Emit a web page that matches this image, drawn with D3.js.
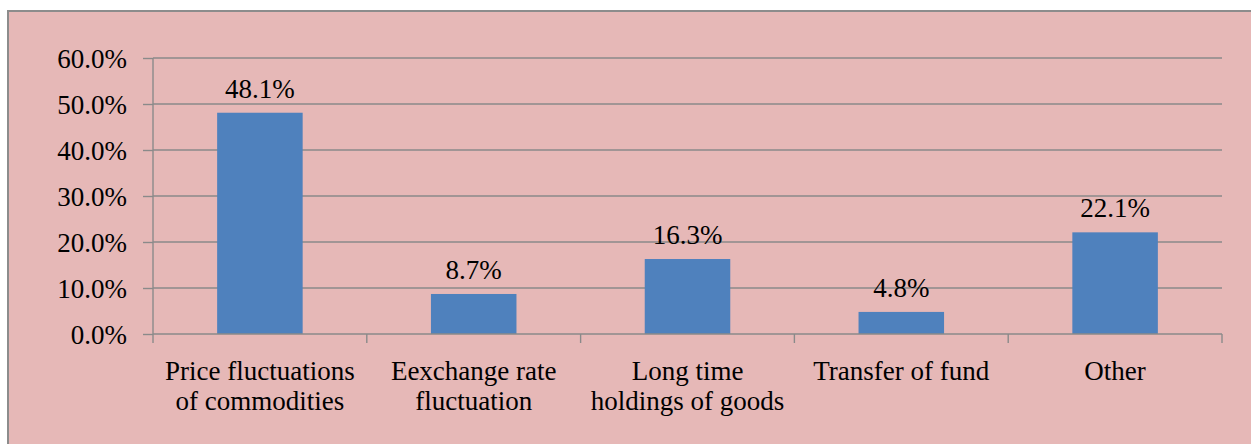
<!DOCTYPE html>
<html>
<head>
<meta charset="utf-8">
<script src="https://cdn.jsdelivr.net/npm/d3@7"></script>
<style>
  body { margin: 0; background: #fff; }
</style>
</head>
<body>
<div id="chart"></div>
<script>
(function(d3) {
  'use strict';

  var categories = [
    ['Price fluctuations', 'of commodities'],
    ['Eexchange rate', 'fluctuation'],
    ['Long time', 'holdings of goods'],
    ['Transfer of fund'],
    ['Other']
  ];
  var values = [48.1, 8.7, 16.3, 4.8, 22.1];
  var yTicks = [0, 10, 20, 30, 40, 50, 60];

  var width = 1251, height = 444;
  var left = 153, right = 1222, top = 58, bottom = 334;
  var serif = "'Liberation Serif', 'Times New Roman', Times, serif";
  var fontSize = '27px';

  var svg = d3.select('#chart').append('svg')
    .attr('width', width)
    .attr('height', height)
    .style('font-family', serif);

  // chart area background + border
  svg.append('rect')
    .attr('x', 8).attr('y', 11)
    .attr('width', 1260).attr('height', 450)
    .attr('fill', '#e6b8b7')
    .attr('stroke', '#8c8c8c')
    .attr('stroke-width', 2);

  var x = d3.scaleBand()
    .domain(d3.range(values.length))
    .range([left, right])
    .paddingInner(0.6)
    .paddingOuter(0.3);

  var y = d3.scaleLinear().domain([0, 60]).range([bottom, top]);

  // gridlines
  svg.append('g').selectAll('line')
    .data(yTicks.slice(1))
    .enter().append('line')
    .attr('x1', left).attr('x2', right)
    .attr('y1', function(d) { return y(d); })
    .attr('y2', function(d) { return y(d); })
    .attr('stroke', '#8a8a8a')
    .attr('stroke-width', 1.4);

  // y axis
  var yAxis = svg.append('g')
    .attr('transform', 'translate(' + left + ',0)')
    .call(d3.axisLeft(y).tickValues(yTicks).tickSize(10).tickPadding(16)
      .tickFormat(function(d) { return d.toFixed(1) + '%'; }));
  yAxis.attr('font-family', null).attr('font-size', null);
  yAxis.selectAll('text')
    .style('font-family', serif)
    .style('font-size', fontSize)
    .attr('fill', '#000')
    .attr('dy', '0.35em');
  yAxis.selectAll('line, path').attr('stroke', '#8a8a8a').attr('stroke-width', 1.4);
  yAxis.select('.domain').attr('d', 'M0,' + top + 'V' + bottom);

  // bars
  svg.append('g').selectAll('rect')
    .data(values)
    .enter().append('rect')
    .attr('x', function(d, i) { return x(i); })
    .attr('y', function(d) { return y(d); })
    .attr('width', x.bandwidth())
    .attr('height', function(d) { return bottom - y(d); })
    .attr('fill', '#4f81bd');

  // value labels
  svg.append('g').selectAll('text')
    .data(values)
    .enter().append('text')
    .attr('x', function(d, i) { return x(i) + x.bandwidth() / 2; })
    .attr('y', function(d) { return y(d) - 15; })
    .attr('text-anchor', 'middle')
    .style('font-family', serif)
    .style('font-size', fontSize)
    .text(function(d) { return d.toFixed(1) + '%'; });

  // x axis with ticks at category boundaries
  var step = x.step();
  var bounds = d3.range(values.length + 1).map(function(i) { return left + i * step; });
  var xAxis = svg.append('g');
  xAxis.append('line')
    .attr('x1', left).attr('x2', right)
    .attr('y1', bottom).attr('y2', bottom)
    .attr('stroke', '#8a8a8a').attr('stroke-width', 1.4);
  xAxis.selectAll('.tick')
    .data(bounds)
    .enter().append('line')
    .attr('x1', function(d) { return d; }).attr('x2', function(d) { return d; })
    .attr('y1', bottom).attr('y2', bottom + 9)
    .attr('stroke', '#8a8a8a').attr('stroke-width', 1.4);

  var labels = xAxis.selectAll('.cat')
    .data(categories)
    .enter().append('text')
    .attr('class', 'cat')
    .attr('text-anchor', 'middle')
    .style('font-family', serif)
    .style('font-size', fontSize)
    .attr('transform', function(d, i) {
      return 'translate(' + (x(i) + x.bandwidth() / 2) + ',380)';
    });
  labels.selectAll('tspan')
    .data(function(d) { return d; })
    .enter().append('tspan')
    .attr('x', 0)
    .attr('dy', function(d, i) { return i === 0 ? 0 : 30; })
    .text(function(d) { return d; });

})(window.d3);
</script>
</body>
</html>
